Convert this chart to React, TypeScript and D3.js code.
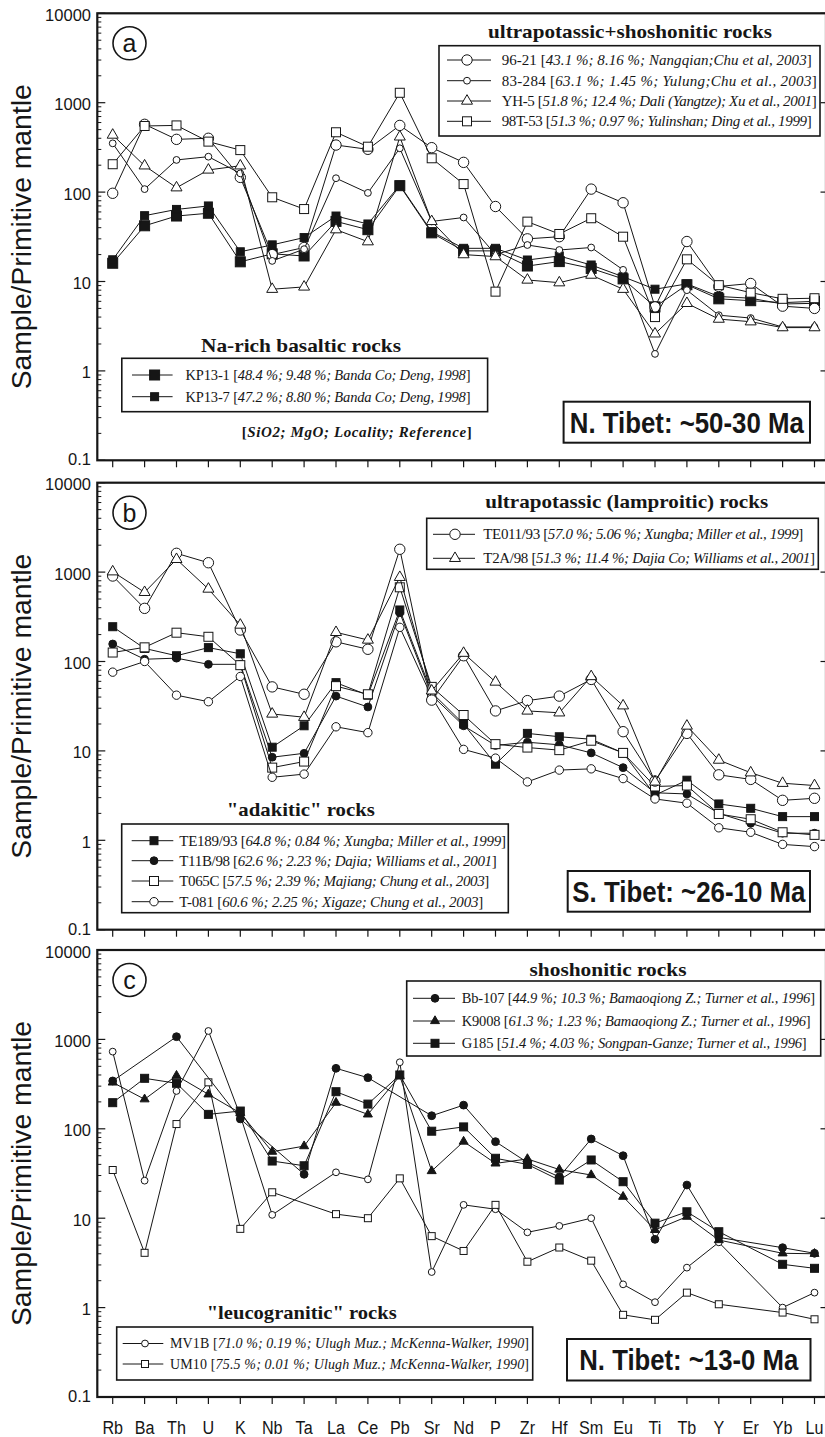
import React, { useLayoutEffect, useRef, useState } from "react";
import * as d3 from "d3";

// ---------------- DATA ----------------
const ELEMENTS = ["Rb","Ba","Th","U","K","Nb","Ta","La","Ce","Pb","Sr","Nd","P","Zr","Hf","Sm","Eu","Ti","Tb","Y","Er","Yb","Lu"];
const TICK_VALUES = [0.1, 1, 10, 100, 1000, 10000];
const TICK_LABELS = ["0.1", "1", "10", "100", "1000", "10000"];

// Panel a : N. Tibet ~50-30 Ma
const A_96_21 = [97, 573, 389, 400, 146, 20, 24, 336, 301, 557, 314, 215, 69, 30, 31.7, 108, 76, 5.2, 28, 8.8, 9.5, 5.3, 5.0];
const A_83_284 = [351, 108, 229, 249, 162, 17, 23, 143, 98, 309, 47, 52, 20, 25.6, 22.5, 24, 13.5, 1.55, 8, 4.2, 3.9, 3.1, 3.1];
const A_YH_5 = [435, 197, 112, 177, 197, 8.2, 8.7, 38, 27.9, 415, 47, 20, 19, 10.4, 9.7, 11.8, 8.2, 2.6, 5.7, 3.8, 3.55, 3.05, 3.05];
const A_98T_53 = [205, 549, 557, 367, 295, 87.5, 64.6, 467, 322, 1291, 239, 123, 7.7, 46.7, 34, 51, 31.7, 4.0, 17.7, 9.1, 7.5, 6.4, 6.5];
const A_KP13_1 = [16, 42, 54, 58, 16.6, 20.4, 19.3, 47, 38, 118, 35, 22, 22, 14.9, 16.7, 14, 10.7, 5.2, 9.2, 6.4, 6.1, 5.8, 6.0];
const A_KP13_7 = [17.5, 54.5, 64, 70, 21.5, 25.7, 31, 54, 44, 120, 36, 23.5, 23.5, 17.4, 19.3, 15.3, 11.3, 8.2, 9.4, 6.8, 6.5, 5.6, 5.7];

// Panel b : S. Tibet ~26-10 Ma
const B_TE011_93 = [904, 393, 1622, 1273, 225, 52, 43, 166, 137, 1800, 37, 116, 28, 36.5, 41, 63, 16.4, 4.6, 15.7, 5.4, 4.8, 2.8, 2.95];
const B_T2A_98 = [1010, 594, 1390, 647, 256, 25.9, 23.8, 212, 174, 875, 47, 124, 59, 28, 26.7, 68, 32, 4.5, 19, 7.9, 5.7, 4.35, 4.1];
const B_TE189_93 = [245, 140, 116, 143, 122, 11, 19.1, 58, 42, 377, 45, 20, 7.1, 15.7, 14.4, 13.5, 9.5, 3.2, 4.7, 2.55, 2.28, 1.84, 1.84];
const B_T11B_98 = [157, 106, 109, 93, 93, 8.5, 9.4, 41, 31, 351, 42, 19.1, 11.5, 12.5, 11.7, 9.5, 6.5, 3.4, 3.3, 2.0, 1.55, 1.2, 1.2];
const B_T065C = [126, 144, 210, 189, 91, 6.5, 7.6, 53, 43, 676, 52, 25.2, 11.9, 10.9, 10.2, 13, 9.5, 4.0, 4.1, 1.97, 1.72, 1.23, 1.15];
const B_T_081 = [76, 100, 42, 35.5, 68, 5.07, 5.5, 18.6, 16, 241, 40, 10.4, 8.3, 4.5, 6.1, 6.3, 4.9, 2.9, 2.6, 1.38, 1.23, 0.9, 0.85];

// Panel c : N. Tibet ~13-0 Ma (null = not analysed)
const C_BB_107 = [343, null, 1072, null, 129, null, 31, 475, 373, null, 140, 184, 71.8, 42, 29, 77, 50, 5.8, 23.5, 6.1, null, 4.68, 4.05];
const C_K9008 = [330, 214, 393, 243, 150, 55.5, 64, 196, 145, 390, 33.7, 72, 41, 46, 35, 30.4, 17.4, 7.4, 10.4, 5.7, null, 4.05, 4.0];
const C_G185 = [196, 367, 323, 145, 158, 43.6, 38.6, 260, 189, 400, 94, 105, 46.8, 40, 26.7, 44.8, 25.6, 8.8, 11.8, 7.06, null, 3.05, 2.75];
const C_MV1B = [730, 26.3, 265, 1242, 140, 10.9, null, 32.6, 27.2, 555, 2.5, 14.1, 12.6, 6.95, 8.2, 10, 1.82, 1.15, 2.8, 5.37, null, 1.0, 1.47];
const C_UM10 = [34.6, 4.1, 113, 331, 7.6, 19.5, null, 11.1, 10, 27.9, 6.3, 4.3, 14.1, 3.26, 4.7, 3.35, 0.83, 0.73, 1.47, 1.09, null, 0.88, 0.74];

// ---------------- STYLE / LAYOUT ----------------
const SANS = "'Liberation Sans', Arial, Helvetica, sans-serif";
const SERIF = "'Liberation Serif', 'Times New Roman', Times, serif";
const INK = "#161616";
const W = 825, H = 1437;
const FRAME_L = 97.3, FRAME_R = 826;
const X0 = 112.7, X1 = 814.5;
const PANEL_H = 447;
const PANEL_TOPS = [13.3, 482.7, 950];

const x = d3.scalePoint<string>().domain(ELEMENTS).range([X0, X1]);

type MarkerType = "circleL" | "circleM" | "circleS" | "square" | "squareS" | "fsquareL" | "fsquare" | "fcircle" | "triangle" | "ftriangle";

function Marker({ type, cx, cy }: { type: MarkerType; cx: number; cy: number }) {
  const sw = 1;
  const tri = (s: number, filled: boolean) => {
    const h = s * 0.866;
    const pts = [[cx, cy - (2 * h) / 3], [cx - s / 2, cy + h / 3], [cx + s / 2, cy + h / 3]];
    return <polygon points={pts.map((p) => p.join(",")).join(" ")} fill={filled ? INK : "#fff"} stroke={INK} strokeWidth={sw} />;
  };
  const sq = (s: number, filled: boolean) => (
    <rect x={cx - s / 2} y={cy - s / 2} width={s} height={s} fill={filled ? INK : "#fff"} stroke={INK} strokeWidth={sw} />
  );
  switch (type) {
    case "circleL": return <circle cx={cx} cy={cy} r={5.2} fill="#fff" stroke={INK} strokeWidth={sw} />;
    case "circleM": return <circle cx={cx} cy={cy} r={4.2} fill="#fff" stroke={INK} strokeWidth={sw} />;
    case "circleS": return <circle cx={cx} cy={cy} r={3.4} fill="#fff" stroke={INK} strokeWidth={sw} />;
    case "fcircle": return <circle cx={cx} cy={cy} r={3.9} fill={INK} stroke={INK} strokeWidth={sw} />;
    case "square": return sq(9, false);
    case "squareS": return sq(7, false);
    case "fsquareL": return sq(10, true);
    case "fsquare": return sq(8, true);
    case "triangle": return tri(11, false);
    case "ftriangle": return tri(9, true);
  }
  return null;
}

type Series = { values: (number | null)[]; marker: MarkerType; name: string; detail: string };

const PANEL_A_UPPER: Series[] = [
  { values: A_96_21, marker: "circleL", name: "96-21", detail: "43.1 %; 8.16 %; Nangqian;Chu et al, 2003" },
  { values: A_83_284, marker: "circleS", name: "83-284", detail: "63.1 %; 1.45 %; Yulung;Chu et al., 2003" },
  { values: A_YH_5, marker: "triangle", name: "YH-5", detail: "51.8 %; 12.4 %; Dali (Yangtze); Xu et al., 2001" },
  { values: A_98T_53, marker: "square", name: "98T-53", detail: "51.3 %; 0.97 %; Yulinshan; Ding et al., 1999" },
];
const PANEL_A_LOWER: Series[] = [
  { values: A_KP13_1, marker: "fsquareL", name: "KP13-1", detail: "48.4 %; 9.48 %; Banda Co; Deng, 1998" },
  { values: A_KP13_7, marker: "fsquare", name: "KP13-7", detail: "47.2 %; 8.80 %; Banda Co; Deng, 1998" },
];
const PANEL_B_UPPER: Series[] = [
  { values: B_TE011_93, marker: "circleL", name: "TE011/93", detail: "57.0 %; 5.06 %; Xungba; Miller et al., 1999" },
  { values: B_T2A_98, marker: "triangle", name: "T2A/98", detail: "51.3 %; 11.4 %; Dajia Co; Williams et al., 2001" },
];
const PANEL_B_LOWER: Series[] = [
  { values: B_TE189_93, marker: "fsquare", name: "TE189/93", detail: "64.8 %; 0.84 %; Xungba; Miller et al., 1999" },
  { values: B_T11B_98, marker: "fcircle", name: "T11B/98", detail: "62.6 %; 2.23 %; Dajia; Williams et al., 2001" },
  { values: B_T065C, marker: "square", name: "T065C", detail: "57.5 %; 2.39 %; Majiang; Chung et al., 2003" },
  { values: B_T_081, marker: "circleM", name: "T-081", detail: "60.6 %; 2.25 %; Xigaze; Chung et al., 2003" },
];
const PANEL_C_UPPER: Series[] = [
  { values: C_BB_107, marker: "fcircle", name: "Bb-107", detail: "44.9 %; 10.3 %; Bamaoqiong Z.; Turner et al., 1996" },
  { values: C_K9008, marker: "ftriangle", name: "K9008", detail: "61.3 %; 1.23 %; Bamaoqiong Z.; Turner et al., 1996" },
  { values: C_G185, marker: "fsquare", name: "G185", detail: "51.4 %; 4.03 %; Songpan-Ganze; Turner et al., 1996" },
];
const PANEL_C_LOWER: Series[] = [
  { values: C_MV1B, marker: "circleS", name: "MV1B", detail: "71.0 %; 0.19 %; Ulugh Muz.; McKenna-Walker, 1990" },
  { values: C_UM10, marker: "squareS", name: "UM10", detail: "75.5 %; 0.01 %; Ulugh Muz.; McKenna-Walker, 1990" },
];

type LegendSpec = {
  title: string; titleX: number; titleY: number; titleW: number;
  box: [number, number, number, number];
  rows: number[]; lineX: [number, number]; markerX: number; textX: number; ends: number[]; size: number;
  series: Series[];
};

type PanelSpec = {
  letter: string; top: number; series: Series[]; legends: LegendSpec[];
  region: { x: number; y: number; w: number; h: number; text: string; textW: number };
  note?: { x: number; y: number; w: number };
};

const PANELS: PanelSpec[] = [
  {
    letter: "a", top: PANEL_TOPS[0],
    series: [...PANEL_A_LOWER, ...PANEL_A_UPPER],
    legends: [
      { title: "ultrapotassic+shoshonitic rocks", titleX: 630, titleY: 37.5, titleW: 284, box: [439, 45.7, 381, 90.3], rows: [60, 80.7, 101, 121.3], lineX: [447, 491], markerX: 467, textX: 501.7, ends: [811.7, 816.7, 816.7, 811.7], size: 15, series: PANEL_A_UPPER },
      { title: "Na-rich basaltic rocks", titleX: 301, titleY: 351.7, titleW: 200, box: [121.8, 358.3, 365.8, 53.4], rows: [375, 396.7], lineX: [132, 172.6], markerX: 154.6, textX: 185.5, ends: [470.5, 470.5], size: 14.5, series: PANEL_A_LOWER },
    ],
    region: { x: 563.6, y: 401.7, w: 246.4, h: 41, text: "N. Tibet: ~50-30 Ma", textW: 234 },
    note: { x: 356.7, y: 436.5, w: 230 },
  },
  {
    letter: "b", top: PANEL_TOPS[1],
    series: [...PANEL_B_LOWER, ...PANEL_B_UPPER],
    legends: [
      { title: "ultrapotassic (lamproitic) rocks", titleX: 626.7, titleY: 508, titleW: 283, box: [426.7, 518.3, 391.6, 51], rows: [534.3, 558.3], lineX: [433, 475], markerX: 455, textX: 483.3, ends: [803.3, 815], size: 15, series: PANEL_B_UPPER },
      { title: "\"adakitic\" rocks", titleX: 300.8, titleY: 816, titleW: 148, box: [121.7, 824, 386.6, 88.7], rows: [840.7, 860.7, 881, 901.7], lineX: [131.7, 173.3], markerX: 154, textX: 179.3, ends: [506, 496.7, 489.3, 483.3], size: 15, series: PANEL_B_LOWER },
    ],
    region: { x: 567.7, y: 871, w: 242.3, h: 40.7, text: "S. Tibet: ~26-10 Ma", textW: 233 },
  },
  {
    letter: "c", top: PANEL_TOPS[2],
    series: [...PANEL_C_LOWER, ...PANEL_C_UPPER],
    legends: [
      { title: "shoshonitic rocks", titleX: 608, titleY: 976, titleW: 157, box: [406.7, 981, 414, 75], rows: [998.3, 1021, 1043.3], lineX: [413, 455], markerX: 435, textX: 461.7, ends: [815, 810.7, 806.7], size: 14.5, series: PANEL_C_UPPER },
      { title: "\"leucogranitic\" rocks", titleX: 301.7, titleY: 1319, titleW: 190, box: [116.7, 1327, 416, 53], rows: [1343.5, 1364], lineX: [122.7, 163.3], markerX: 145, textX: 170, ends: [529, 529], size: 14, series: PANEL_C_LOWER },
    ],
    region: { x: 567, y: 1339, w: 243.5, h: 41.5, text: "N. Tibet: ~13-0 Ma", textW: 219 },
  },
];

// Condensed bold sans text: measured, then scaled horizontally to the target width.
function CondensedText({ cx, baseline, width, fontSize, children }: { cx: number; baseline: number; width: number; fontSize: number; children: string }) {
  const ref = useRef<SVGTextElement>(null);
  const [sx, setSx] = useState(0.8);
  useLayoutEffect(() => {
    if (ref.current) {
      const w = ref.current.getComputedTextLength();
      if (w > 0) setSx(width / w);
    }
  }, [width, children]);
  return (
    <text ref={ref} transform={`translate(${cx},${baseline}) scale(${sx},1)`} textAnchor="middle" fontFamily={SANS}
      fontWeight="bold" fontSize={fontSize} fill={INK}>{children}</text>
  );
}

function Legend({ spec }: { spec: LegendSpec }) {
  const [bx, by, bw, bh] = spec.box;
  return (
    <g>
      <text x={spec.titleX} y={spec.titleY} textAnchor="middle" fontFamily={SERIF} fontWeight="bold" fontSize={19} fill={INK}
        textLength={spec.titleW} lengthAdjust="spacingAndGlyphs">{spec.title}</text>
      <rect x={bx} y={by} width={bw} height={bh} fill="#fff" stroke={INK} strokeWidth={1.6} />
      {spec.series.map((s, i) => {
        const ry = spec.rows[i];
        return (
          <g key={s.name}>
            <line x1={spec.lineX[0]} x2={spec.lineX[1]} y1={ry} y2={ry} stroke={INK} strokeWidth={1} />
            <Marker type={s.marker} cx={spec.markerX} cy={ry} />
            <text x={spec.textX} y={ry + spec.size * 0.34} fontFamily={SERIF} fontSize={spec.size} fill={INK}
              textLength={spec.ends[i] - spec.textX} lengthAdjust="spacing">
              {s.name + " ["}<tspan fontStyle="italic">{s.detail}</tspan>{"]"}
            </text>
          </g>
        );
      })}
    </g>
  );
}

function Panel({ spec, isLast }: { spec: PanelSpec; isLast: boolean }) {
  const top = spec.top;
  const bottom = top + PANEL_H;
  const y = d3.scaleLog().domain([0.1, 10000]).range([bottom, top]);
  const minors: number[] = [];
  for (let e = -1; e < 4; e++) for (let m = 2; m <= 9; m++) minors.push(m * Math.pow(10, e));
  const line = d3.line<[number, number]>().x((d) => d[0]).y((d) => d[1]);

  return (
    <g>
      {/* y axis title */}
      <text transform={`translate(22,${(top + bottom) / 2}) rotate(-90)`} textAnchor="middle" dominantBaseline="central"
        fontFamily={SANS} fontSize={27} fill={INK} textLength={305} lengthAdjust="spacingAndGlyphs">Sample/Primitive mantle</text>
      {/* tick labels */}
      {TICK_VALUES.map((v, i) => (
        <text key={v} x={91} y={y(v) + (v === 0.1 ? -1 : 1.5)} textAnchor="end" dominantBaseline="central" fontFamily={SANS} fontSize={16.5} fill={INK}>{TICK_LABELS[i]}</text>
      ))}
      {/* minor ticks (left, inward) */}
      {minors.map((v) => (
        <line key={"m" + v} x1={FRAME_L} x2={FRAME_L + 4} y1={y(v)} y2={y(v)} stroke={INK} strokeWidth={1} />
      ))}
      {TICK_VALUES.map((v) => (
        <g key={"M" + v}>
          <line x1={FRAME_L} x2={FRAME_L + 8} y1={y(v)} y2={y(v)} stroke={INK} strokeWidth={1.2} />
          <line x1={820.5} x2={825} y1={y(v)} y2={y(v)} stroke={INK} strokeWidth={1.2} />
        </g>
      ))}
      {/* bottom ticks */}
      {ELEMENTS.map((el) => (
        <line key={"t" + el} x1={x(el)!} x2={x(el)!} y1={bottom} y2={bottom + 7} stroke={INK} strokeWidth={1.2} />
      ))}
      {/* frame */}
      <rect x={FRAME_L} y={top} width={FRAME_R - FRAME_L} height={PANEL_H} fill="none" stroke={INK} strokeWidth={2.2} />
      {/* panel letter */}
      <circle cx={129.5} cy={top + 30} r={16.5} fill="none" stroke={INK} strokeWidth={1.6} />
      <text x={129.5} y={top + 30} textAnchor="middle" dominantBaseline="central" fontFamily={SANS} fontSize={25} fill={INK}>{spec.letter}</text>

      {/* series */}
      {spec.series.map((s) => {
        const pts: [number, number][] = [];
        s.values.forEach((v, i) => { if (v != null) pts.push([x(ELEMENTS[i])!, y(v)]); });
        return (
          <g key={s.name}>
            <path d={line(pts) || ""} fill="none" stroke={INK} strokeWidth={1} />
            {pts.map((p, i) => <Marker key={i} type={s.marker} cx={p[0]} cy={p[1]} />)}
          </g>
        );
      })}

      {spec.legends.map((l) => <Legend key={l.title} spec={l} />)}

      {/* region box */}
      <rect x={spec.region.x} y={spec.region.y} width={spec.region.w} height={spec.region.h} fill="#fff" stroke={INK} strokeWidth={2} />
      <CondensedText cx={spec.region.x + spec.region.w / 2} baseline={spec.region.y + spec.region.h / 2 + 10.5}
        width={spec.region.textW} fontSize={29}>{spec.region.text}</CondensedText>

      {spec.note && (
        <text x={spec.note.x} y={spec.note.y} textAnchor="middle" fontFamily={SERIF} fontWeight="bold" fontSize={15} fill={INK}
          textLength={spec.note.w} lengthAdjust="spacing">
          {"["}<tspan fontStyle="italic">SiO2; MgO; Locality; Reference</tspan>{"]"}
        </text>
      )}

      {isLast && ELEMENTS.map((el) => (
        <text key={"l" + el} transform={`translate(${x(el)},1434) scale(0.85,1)`} textAnchor="middle" fontFamily={SANS} fontSize={19} fill={INK}>{el}</text>
      ))}
    </g>
  );
}

export default function App() {
  return (
    <div style={{ position: "absolute", left: 0, top: 0 }}>
      <svg width={W} height={H} viewBox={`0 0 ${W} ${H}`} style={{ display: "block", background: "#fff" }}>
        <rect x={0} y={0} width={W} height={H} fill="#fff" />
        {PANELS.map((p, i) => <Panel key={p.letter} spec={p} isLast={i === PANELS.length - 1} />)}
      </svg>
    </div>
  );
}
